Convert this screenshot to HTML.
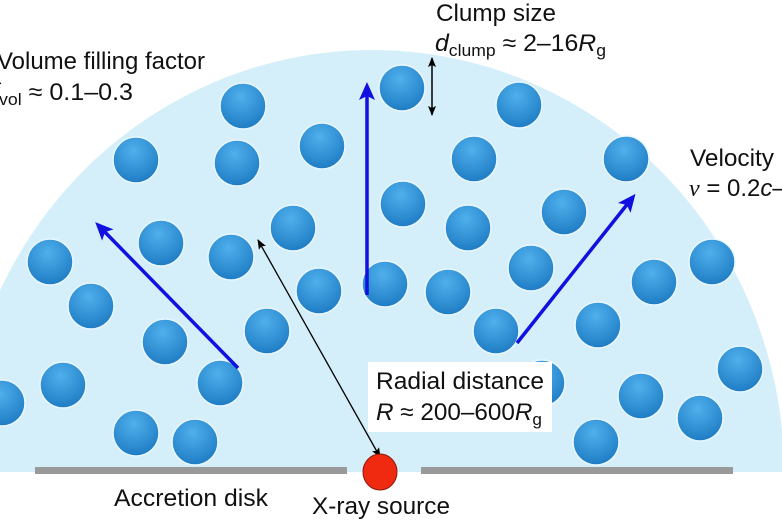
<!DOCTYPE html>
<html><head><meta charset="utf-8"><style>
html,body{margin:0;padding:0;background:#fff;overflow:hidden;width:782px;height:521px;}
svg{display:block}
text{font-family:"Liberation Sans",sans-serif;font-size:24px;fill:#111;}
</style></head><body>
<svg width="782" height="521" viewBox="0 0 782 521">
<defs>
<radialGradient id="g" cx="0.45" cy="0.3" r="0.7">
<stop offset="0" stop-color="#4fb0ec"/><stop offset="1" stop-color="#1f7cc4"/>
</radialGradient>
<clipPath id="c"><rect x="0" y="0" width="782" height="472"/></clipPath>
<marker id="ab" markerWidth="18" markerHeight="16" refX="14" refY="8" orient="auto" markerUnits="userSpaceOnUse"><path d="M0,0 L18,8 L0,16 L4,8z" fill="#1010e0"/></marker>
<marker id="ak" markerWidth="10" markerHeight="8" refX="9" refY="4" orient="auto-start-reverse" markerUnits="userSpaceOnUse"><path d="M0,0 L10,4 L0,8 L2,4z" fill="#000"/></marker>
</defs>
<ellipse cx="372" cy="472" rx="412" ry="422" fill="#d5effa" clip-path="url(#c)"/>
<g fill="url(#g)" stroke="#e8f6fd" stroke-width="1.5">
<circle cx="243" cy="106" r="23"/><circle cx="322" cy="146" r="23"/><circle cx="402" cy="88" r="23"/>
<circle cx="519" cy="105" r="23"/><circle cx="136" cy="160" r="23"/><circle cx="237" cy="163" r="23"/>
<circle cx="474" cy="159" r="23"/><circle cx="626" cy="159" r="23"/><circle cx="403" cy="204" r="23"/>
<circle cx="564" cy="212" r="23"/><circle cx="293" cy="228" r="23"/><circle cx="468" cy="228" r="23"/>
<circle cx="161" cy="243" r="23"/><circle cx="231" cy="257" r="23"/><circle cx="50" cy="262" r="23"/>
<circle cx="531" cy="268" r="23"/><circle cx="712" cy="262" r="23"/><circle cx="319" cy="291" r="23"/>
<circle cx="385" cy="284" r="23"/><circle cx="448" cy="292" r="23"/><circle cx="654" cy="282" r="23"/>
<circle cx="91" cy="306" r="23"/><circle cx="267" cy="331" r="23"/><circle cx="496" cy="331" r="23"/>
<circle cx="598" cy="325" r="23"/><circle cx="165" cy="342" r="23"/><circle cx="740" cy="369" r="23"/>
<circle cx="63" cy="385" r="23"/><circle cx="220" cy="383" r="23"/><circle cx="2" cy="403" r="23"/>
<circle cx="542" cy="383" r="23"/><circle cx="641" cy="396" r="23"/><circle cx="700" cy="418" r="23"/>
<circle cx="136" cy="433" r="23"/><circle cx="195" cy="442" r="23"/><circle cx="596" cy="442" r="23"/>
</g>
<g stroke="#1010e0" stroke-width="3.5" fill="none">
<line x1="238" y1="368" x2="98" y2="225" marker-end="url(#ab)"/>
<line x1="367" y1="295" x2="367" y2="86" marker-end="url(#ab)"/>
<line x1="517" y1="343" x2="633" y2="197" marker-end="url(#ab)"/>
</g>
<line x1="380" y1="457" x2="258" y2="240" stroke="#000" stroke-width="1.3" marker-end="url(#ak)" marker-start="url(#ak)"/>
<line x1="432" y1="58" x2="432" y2="115" stroke="#000" stroke-width="1.5" marker-end="url(#ak)" marker-start="url(#ak)"/>
<rect x="368" y="362" width="184" height="70" fill="#fff"/>
<rect x="35" y="467" width="312" height="7" fill="#999"/>
<rect x="421" y="467" width="312" height="7" fill="#999"/>
<ellipse cx="380" cy="472" rx="17" ry="18" fill="#f02a10" stroke="#8a1a0a" stroke-width="1"/>
<text x="436" y="21" textLength="120" lengthAdjust="spacingAndGlyphs">Clump size</text>
<text x="435" y="51" textLength="171" lengthAdjust="spacingAndGlyphs"><tspan font-style="italic">d</tspan><tspan font-size="17" dy="5">clump</tspan><tspan dy="-5"> ≈ 2–16</tspan><tspan font-style="italic">R</tspan><tspan font-size="17" dy="5">g</tspan></text>
<text x="-3" y="69" textLength="208" lengthAdjust="spacingAndGlyphs">Volume filling factor</text>
<text x="-8" y="100" textLength="141" lengthAdjust="spacingAndGlyphs"><tspan font-style="italic">f</tspan><tspan font-size="17" dy="5">vol</tspan><tspan dy="-5"> ≈ 0.1–0.3</tspan></text>
<text x="690" y="166" textLength="84" lengthAdjust="spacingAndGlyphs">Velocity</text>
<text x="689" y="196"><tspan font-family="Liberation Serif" font-style="italic">ν</tspan> = 0.2<tspan font-style="italic">c</tspan>–</text>
<text x="376" y="389" textLength="168" lengthAdjust="spacingAndGlyphs">Radial distance</text>
<text x="376" y="420" textLength="166" lengthAdjust="spacingAndGlyphs"><tspan font-style="italic">R</tspan> ≈ 200–600<tspan font-style="italic">R</tspan><tspan font-size="17" dy="5">g</tspan></text>
<text x="114" y="506" textLength="154" lengthAdjust="spacingAndGlyphs">Accretion disk</text>
<text x="312" y="514" textLength="138" lengthAdjust="spacingAndGlyphs">X-ray source</text>
</svg>
</body></html>
